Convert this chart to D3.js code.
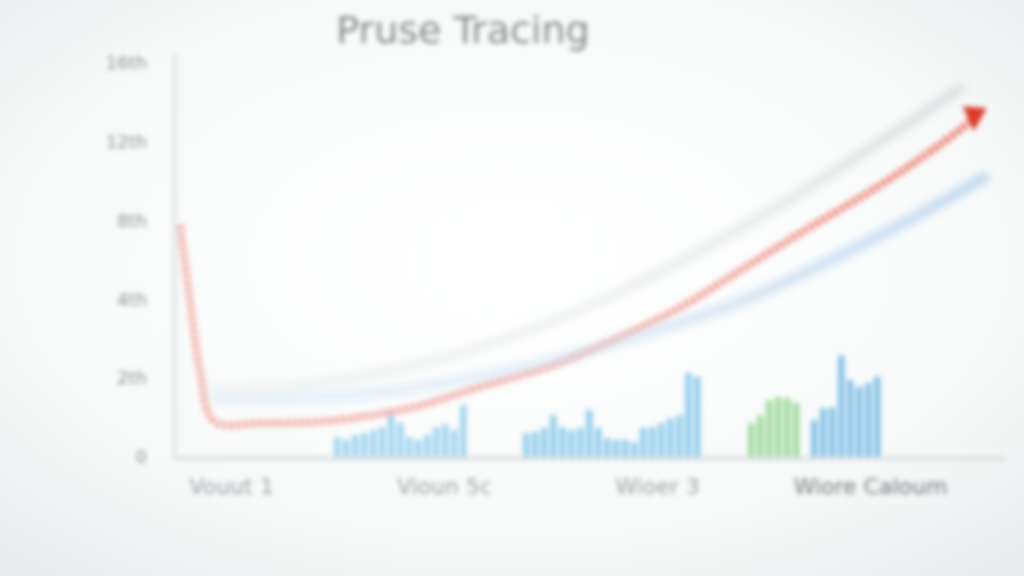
<!DOCTYPE html>
<html><head><meta charset="utf-8">
<script src="https://cdn.jsdelivr.net/npm/d3@7"></script>
<style>html,body{margin:0;padding:0;background:#f6f8f8;}svg{display:block;}</style>
</head><body>
<script>
// ---- data ----
const titleText = "Pruse Tracing";
const yTickValues = [0, 1, 2, 3, 4, 5];
const yTickLabels = ["0", "2th", "4th", "8th", "12th", "16th"];
const xCategories = ["Vouut 1", "Vioun 5c", "Wioer 3", "Wiore Caloum"];

// bar groups: start slot + values
const barGroup1Start = 17;
const barGroup1 = [0.25,0.22,0.28,0.30,0.34,0.38,0.57,0.43,0.25,0.22,0.28,0.38,0.41,0.34,0.66];
const barGroup2Start = 38;
const barGroup2 = [0.30,0.32,0.37,0.53,0.38,0.34,0.37,0.60,0.37,0.24,0.22,0.22,0.19,0.37,0.38,0.43,0.49,0.53,1.07,1.02];
const barGreenStart = 63;
const barGreen = [0.43,0.53,0.72,0.76,0.75,0.69];
const barGroup3Start = 70;
const barGroup3 = [0.47,0.62,0.63,1.29,0.98,0.89,0.94,1.02];

// lines: [slot, value]
const redLine = [[0,2.94],[1.1,1.99],[2.2,1.10],[3.8,0.45],[8.9,0.43],[16.7,0.46],[25.9,0.63],[33.3,0.89],[40.8,1.14],[48.1,1.48],[55.6,1.90],[62,2.35],[68.9,2.84],[77.8,3.45],[84.4,3.96],[88.3,4.30]];
const grayLine = [[3.3,0.85],[13.3,0.91],[24.4,1.12],[35.6,1.48],[46.7,1.98],[57.8,2.62],[68.9,3.35],[77.8,4.00],[86.7,4.68]];
const blueLine = [[3.9,0.74],[18.9,0.78],[30,0.95],[41.1,1.22],[52.2,1.58],[63.3,2.02],[74.4,2.62],[83.3,3.15],[89.4,3.55]];

// ---- drawing ----
const W = 1024, H = 576;
const svg = d3.select("body").append("svg").attr("width", W).attr("height", H);
const defs = svg.append("defs");
const bg = defs.append("radialGradient").attr("id","bg").attr("cx","50%").attr("cy","45%").attr("r","70%");
bg.append("stop").attr("offset","0%").attr("stop-color","#ffffff");
bg.append("stop").attr("offset","70%").attr("stop-color","#f8fafa");
bg.append("stop").attr("offset","100%").attr("stop-color","#e9eded");
defs.append("filter").attr("id","blur").attr("x","-5%").attr("y","-5%").attr("width","110%").attr("height","110%")
  .append("feGaussianBlur").attr("stdDeviation", 2.6);
defs.append("filter").attr("id","blur2").attr("x","-5%").attr("y","-20%").attr("width","110%").attr("height","140%")
  .append("feGaussianBlur").attr("stdDeviation", 4);
function hGrad(id, stops){
  const lg = defs.append("linearGradient").attr("id",id).attr("gradientUnits","userSpaceOnUse")
    .attr("x1",180).attr("x2",990).attr("y1",0).attr("y2",0);
  stops.forEach(s=>lg.append("stop").attr("offset",s[0]).attr("stop-color",s[1]).attr("stop-opacity",s[2]));
}
hGrad("redgrad", [["0%","#f4a49a",1],["55%","#f29b8f",1],["100%","#e86452",1]]);
hGrad("graygrad", [["0%","#e2e6e6",0.35],["50%","#e2e6e6",0.45],["100%","#dadfdf",1]]);
hGrad("bluegrad", [["0%","#c6dcf0",0.35],["50%","#c6dcf0",0.5],["100%","#bcd6ee",1]]);

svg.append("rect").attr("width",W).attr("height",H).attr("fill","url(#bg)");

const g = svg.append("g").attr("filter","url(#blur)");

const x = d3.scaleLinear().domain([0, 90]).range([180, 990]);
const y = d3.scaleLinear().domain([0, 5]).range([457, 63]);
const xc = d3.scalePoint().domain(xCategories).range([231, 870]);

// title
g.append("text").attr("x", 463).attr("y", 43).attr("text-anchor","middle")
  .attr("font-family","'DejaVu Sans', sans-serif").attr("font-size", 38).attr("fill","#848c8c")
  .text(titleText);

// axis lines
g.append("line").attr("x1", x(-0.6)).attr("x2", x(-0.6)).attr("y1", y(5.1)).attr("y2", y(-0.05))
  .attr("stroke","#e6eaea").attr("stroke-width",6);
g.append("line").attr("x1", x(-0.6)).attr("x2", x(91.7)).attr("y1", y(-0.02)).attr("y2", y(-0.02))
  .attr("stroke","#dfe4e4").attr("stroke-width",5);

// y axis labels
const yAxis = d3.axisLeft(y).tickValues(yTickValues).tickFormat((d,i)=>yTickLabels[i]).tickSize(0).tickPadding(0);
const ya = g.append("g").attr("transform","translate(147,0)").call(yAxis);
ya.select(".domain").remove();
ya.selectAll("text").attr("font-family","'DejaVu Sans', sans-serif").attr("font-size",18).attr("fill","#8a9292");

// x axis labels
const xAxis = d3.axisBottom(xc).tickSize(0).tickPadding(0);
const xa = g.append("g").attr("transform","translate(0,478)").call(xAxis);
xa.select(".domain").remove();
xa.selectAll("text").attr("font-family","'DejaVu Sans', sans-serif").attr("font-size",22)
  .attr("fill",(d,i)=> i===3 ? "#6f7777" : "#98a0a0");

// lines (soft, behind bars)
const line = d3.line().x(d=>x(d[0])).y(d=>y(d[1])).curve(d3.curveMonotoneX);
svg.append("path").datum(grayLine).attr("d", line).attr("fill","none").attr("filter","url(#blur2)")
  .attr("stroke","url(#graygrad)").attr("stroke-width",10).attr("stroke-linecap","round");
svg.append("path").datum(blueLine).attr("d", line).attr("fill","none").attr("filter","url(#blur2)")
  .attr("stroke","url(#bluegrad)").attr("stroke-width",10).attr("stroke-linecap","round");

// bars
function drawBars(vals, start, color){
  g.append("g").selectAll("rect").data(vals).join("rect")
    .attr("x",(d,i)=>x(start+i)+1)
    .attr("width", x(0.72)-x(0))
    .attr("y", d=>y(d))
    .attr("height", d=>y(0)-y(d))
    .attr("fill", color);
}
drawBars(barGroup1, barGroup1Start, "#a2d5ef");
drawBars(barGroup2, barGroup2Start, "#95cfed");
drawBars(barGreen, barGreenStart, "#a3dba0");
drawBars(barGroup3, barGroup3Start, "#86c3e6");

g.append("path").datum(redLine).attr("d", d3.line().x(d=>x(d[0])).y(d=>y(d[1])).curve(d3.curveCatmullRom)).attr("fill","none")
  .attr("stroke","url(#redgrad)").attr("stroke-width",8).attr("stroke-dasharray","4 3");

// arrow head at end of red line
const last = redLine[redLine.length-1];
const ax = x(last[0]), ay = y(last[1]);
g.append("path")
  .attr("d", `M${ax-12},${ay-12} L${ax+12},${ay-10} L${ax-1},${ay+13} Z`)
  .attr("fill","#dc3a28");
</script>
</body></html>
